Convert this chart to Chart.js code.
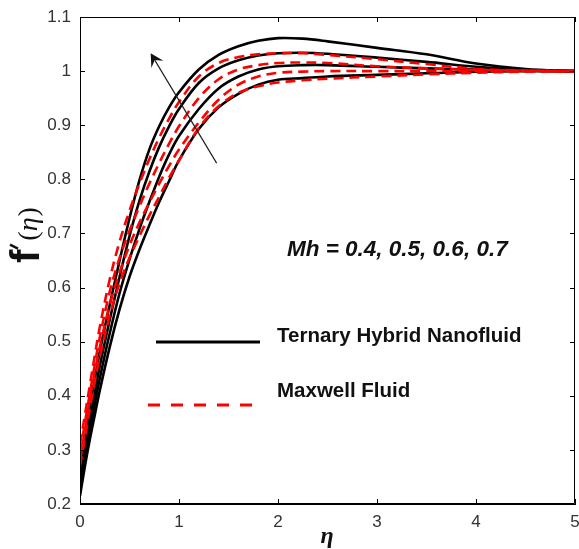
<!DOCTYPE html>
<html>
<head>
<meta charset="utf-8">
<script src="https://cdn.jsdelivr.net/npm/chart.js@4.4.0/dist/chart.umd.min.js"></script>
<style>
  html, body { margin: 0; padding: 0; background: #fff; }
</style>
</head>
<body>
<canvas id="myChart" width="579" height="549"></canvas>
<script>
// similarity variable
const eta = [0, 0.05, 0.1, 0.15, 0.2, 0.3, 0.4, 0.5, 0.6, 0.7, 0.8, 0.9, 1.0,
             1.2, 1.4, 1.6, 1.8, 2.0, 2.25, 2.5, 3.0, 3.5, 4.0, 4.5, 5.0];
const mhLabels = ['0.4', '0.5', '0.6', '0.7'];

// f'(eta), ternary hybrid nanofluid
const hybridMh04 = [0.215, 0.27, 0.32, 0.365, 0.41, 0.49, 0.56, 0.62, 0.67, 0.715, 0.758, 0.797, 0.835,
                    0.893, 0.933, 0.958, 0.975, 0.984, 0.987, 0.99, 0.993, 0.996, 0.999, 1.0, 1.0];
const hybridMh05 = [0.23, 0.285, 0.335, 0.385, 0.432, 0.515, 0.59, 0.652, 0.708, 0.758, 0.805, 0.846, 0.88,
                    0.93, 0.968, 0.99, 1.003, 1.009, 1.011, 1.011, 1.008, 1.005, 1.003, 1.001, 1.0];
const hybridMh06 = [0.245, 0.30, 0.355, 0.405, 0.455, 0.54, 0.62, 0.695, 0.76, 0.814, 0.86, 0.898, 0.93,
                    0.978, 1.005, 1.02, 1.029, 1.033, 1.034, 1.032, 1.025, 1.017, 1.008, 1.002, 1.0];
const hybridMh07 = [0.26, 0.32, 0.38, 0.432, 0.482, 0.568, 0.65, 0.728, 0.798, 0.855, 0.898, 0.933, 0.961,
                    1.003, 1.03, 1.046, 1.056, 1.061, 1.06, 1.055, 1.043, 1.031, 1.014, 1.004, 1.0];

// f'(eta), Maxwell fluid
const maxwellMh04 = [0.27, 0.322, 0.378, 0.428, 0.472, 0.548, 0.608, 0.655, 0.695, 0.733, 0.768, 0.803, 0.835,
                     0.895, 0.935, 0.96, 0.972, 0.979, 0.983, 0.986, 0.99, 0.994, 0.997, 0.999, 1.0];
const maxwellMh05 = [0.28, 0.337, 0.395, 0.445, 0.49, 0.568, 0.628, 0.678, 0.72, 0.757, 0.792, 0.825, 0.855,
                     0.905, 0.947, 0.975, 0.99, 0.997, 0.999, 1.0, 1.0, 1.0, 1.0, 1.0, 1.0];
const maxwellMh06 = [0.295, 0.35, 0.405, 0.458, 0.508, 0.592, 0.655, 0.705, 0.75, 0.792, 0.83, 0.866, 0.898,
                     0.95, 0.985, 1.003, 1.011, 1.015, 1.016, 1.015, 1.009, 1.005, 1.002, 1.001, 1.0];
const maxwellMh07 = [0.31, 0.365, 0.42, 0.475, 0.527, 0.615, 0.685, 0.742, 0.792, 0.837, 0.877, 0.912, 0.943,
                     0.99, 1.015, 1.026, 1.031, 1.033, 1.033, 1.03, 1.022, 1.013, 1.004, 1.001, 1.0];

const yTicks = [0.2, 0.3, 0.4, 0.5, 0.6, 0.7, 0.8, 0.9, 1, 1.1];
const xTicks = [0, 1, 2, 3, 4, 5];

const hybridSeries = [hybridMh04, hybridMh05, hybridMh06, hybridMh07];
const maxwellSeries = [maxwellMh04, maxwellMh05, maxwellMh06, maxwellMh07];

function toPoints(values) {
    return values.map((v, i) => ({ x: eta[i], y: v }));
}

let datasets = [];
maxwellSeries.forEach((s, i) => {
    datasets.push({
        label: 'Maxwell Fluid, Mh = ' + mhLabels[i],
        data: toPoints(s),
        borderColor: '#ff0000',
        borderWidth: 2.6,
        borderDash: [10, 6],
        order: 0
    });
});
hybridSeries.forEach((s, i) => {
    datasets.push({
        label: 'Ternary Hybrid Nanofluid, Mh = ' + mhLabels[i],
        data: toPoints(s),
        borderColor: '#000000',
        borderWidth: 2.6,
        order: 1
    });
});

const tickFont = { family: 'Liberation Sans, Arial, sans-serif', size: 17 };

// box, inward ticks, arrow, labels and the hand-placed legend
const decorations = {
    id: 'decorations',
    afterDraw(chart) {
        const ctx = chart.ctx;
        const a = chart.chartArea;
        const xs = chart.scales.x;
        const ys = chart.scales.y;

        ctx.save();
        ctx.strokeStyle = '#000';
        ctx.lineWidth = 1;
        ctx.beginPath();
        ctx.rect(a.left + 0.5, a.top + 0.5, a.right - a.left - 1, a.bottom - a.top - 1);
        ctx.stroke();

        const tl = 5;
        ctx.beginPath();
        xTicks.forEach(t => {
            const px = Math.round(xs.getPixelForValue(t)) + 0.5;
            ctx.moveTo(px, a.bottom); ctx.lineTo(px, a.bottom - tl);
            ctx.moveTo(px, a.top); ctx.lineTo(px, a.top + tl);
        });
        yTicks.forEach(t => {
            const py = Math.round(ys.getPixelForValue(t)) + 0.5;
            ctx.moveTo(a.left, py); ctx.lineTo(a.left + tl, py);
            ctx.moveTo(a.right, py); ctx.lineTo(a.right - tl, py);
        });
        ctx.stroke();

        // arrow in the direction of increasing Mh
        const x0 = xs.getPixelForValue(1.38), y0 = ys.getPixelForValue(0.83);
        const x1 = xs.getPixelForValue(0.714), y1 = ys.getPixelForValue(1.033);
        const ang = Math.atan2(y1 - y0, x1 - x0);
        ctx.strokeStyle = '#222';
        ctx.fillStyle = '#111';
        ctx.lineWidth = 1.2;
        ctx.beginPath();
        ctx.moveTo(x0, y0);
        ctx.lineTo(x1 - 8 * Math.cos(ang), y1 - 8 * Math.sin(ang));
        ctx.stroke();
        const hl = 13, hw = 7;
        ctx.beginPath();
        ctx.moveTo(x1, y1);
        ctx.lineTo(x1 - hl * Math.cos(ang) + hw * Math.sin(ang), y1 - hl * Math.sin(ang) - hw * Math.cos(ang));
        ctx.lineTo(x1 - 0.6 * hl * Math.cos(ang), y1 - 0.6 * hl * Math.sin(ang));
        ctx.lineTo(x1 - hl * Math.cos(ang) - hw * Math.sin(ang), y1 - hl * Math.sin(ang) + hw * Math.cos(ang));
        ctx.closePath();
        ctx.fill();

        // parameter label
        ctx.fillStyle = '#111';
        ctx.font = 'italic bold 22.5px "Liberation Sans", Arial, sans-serif';
        ctx.textBaseline = 'middle';
        ctx.textAlign = 'left';
        ctx.fillText('Mh = ' + mhLabels.join(', '), xs.getPixelForValue(2.09), ys.getPixelForValue(0.669));

        // legend
        ctx.lineWidth = 3;
        ctx.strokeStyle = '#000';
        ctx.beginPath();
        ctx.moveTo(156, 342); ctx.lineTo(260, 342);
        ctx.stroke();
        ctx.strokeStyle = '#ff0000';
        ctx.setLineDash([12, 11]);
        ctx.beginPath();
        ctx.moveTo(148, 405); ctx.lineTo(253, 405);
        ctx.stroke();
        ctx.setLineDash([]);
        ctx.font = 'bold 20.5px "Liberation Sans", Arial, sans-serif';
        ctx.fillStyle = '#111';
        ctx.fillText('Ternary Hybrid Nanofluid', 277, 336);
        ctx.fillText('Maxwell Fluid', 277, 391);

        // x axis title
        ctx.font = 'italic bold 24px "Liberation Serif", "DejaVu Serif", serif';
        ctx.textAlign = 'center';
        ctx.fillText('\u03B7', 327, 537);

        // y axis title f'(eta), written bottom to top
        ctx.translate(39, 266);
        ctx.rotate(-Math.PI / 2);
        ctx.textAlign = 'left';
        ctx.textBaseline = 'alphabetic';
        let u = 3;
        ctx.font = 'bold 40px "Liberation Sans", Arial, sans-serif';
        ctx.fillText('f', u, 0);
        u += ctx.measureText('f').width;
        // prime mark
        ctx.strokeStyle = '#111';
        ctx.lineWidth = 2.6;
        ctx.beginPath();
        ctx.moveTo(u + 1, -21);
        ctx.lineTo(u + 5, -29);
        ctx.stroke();
        u += 9;
        ctx.font = '28px "Liberation Serif", "DejaVu Serif", serif';
        ctx.fillText('(', u, -2);
        u += ctx.measureText('(').width;
        ctx.font = 'italic 28px "Liberation Serif", "DejaVu Serif", serif';
        ctx.fillText('\u03B7', u, -2);
        u += ctx.measureText('\u03B7').width + 1;
        ctx.font = '28px "Liberation Serif", "DejaVu Serif", serif';
        ctx.fillText(')', u, -2);
        ctx.restore();
    }
};

const ctx = document.getElementById('myChart').getContext('2d');
const myChart = new Chart(ctx, {
    type: 'line',
    data: { datasets: datasets },
    options: {
        responsive: false,
        animation: false,
        layout: { padding: { left: 0, right: 4, top: 17, bottom: 0 } },
        elements: {
            point: { radius: 0 },
            line: { tension: 0.35 }
        },
        plugins: {
            legend: { display: false },
            tooltip: { enabled: false }
        },
        scales: {
            x: {
                type: 'linear',
                min: 0,
                max: 5,
                afterBuildTicks: s => { s.ticks = xTicks.map(v => ({ value: v })); },
                afterFit: s => { s.height = 45; s.paddingLeft = 0; s.paddingRight = 0; },
                ticks: { color: '#333', font: tickFont, padding: 8, maxRotation: 0 },
                grid: { display: false, drawTicks: false },
                border: { color: '#000' }
            },
            y: {
                type: 'linear',
                min: 0.2,
                max: 1.1,
                afterBuildTicks: s => { s.ticks = yTicks.map(v => ({ value: v })); },
                afterFit: s => { s.width = 80; s.paddingTop = 0; s.paddingBottom = 0; },
                ticks: {
                    color: '#333',
                    font: tickFont,
                    padding: 9,
                    callback: v => String(Number(v.toFixed(1)))
                },
                grid: { display: false, drawTicks: false },
                border: { color: '#000' }
            }
        }
    },
    plugins: [decorations]
});
</script>
</body>
</html>
